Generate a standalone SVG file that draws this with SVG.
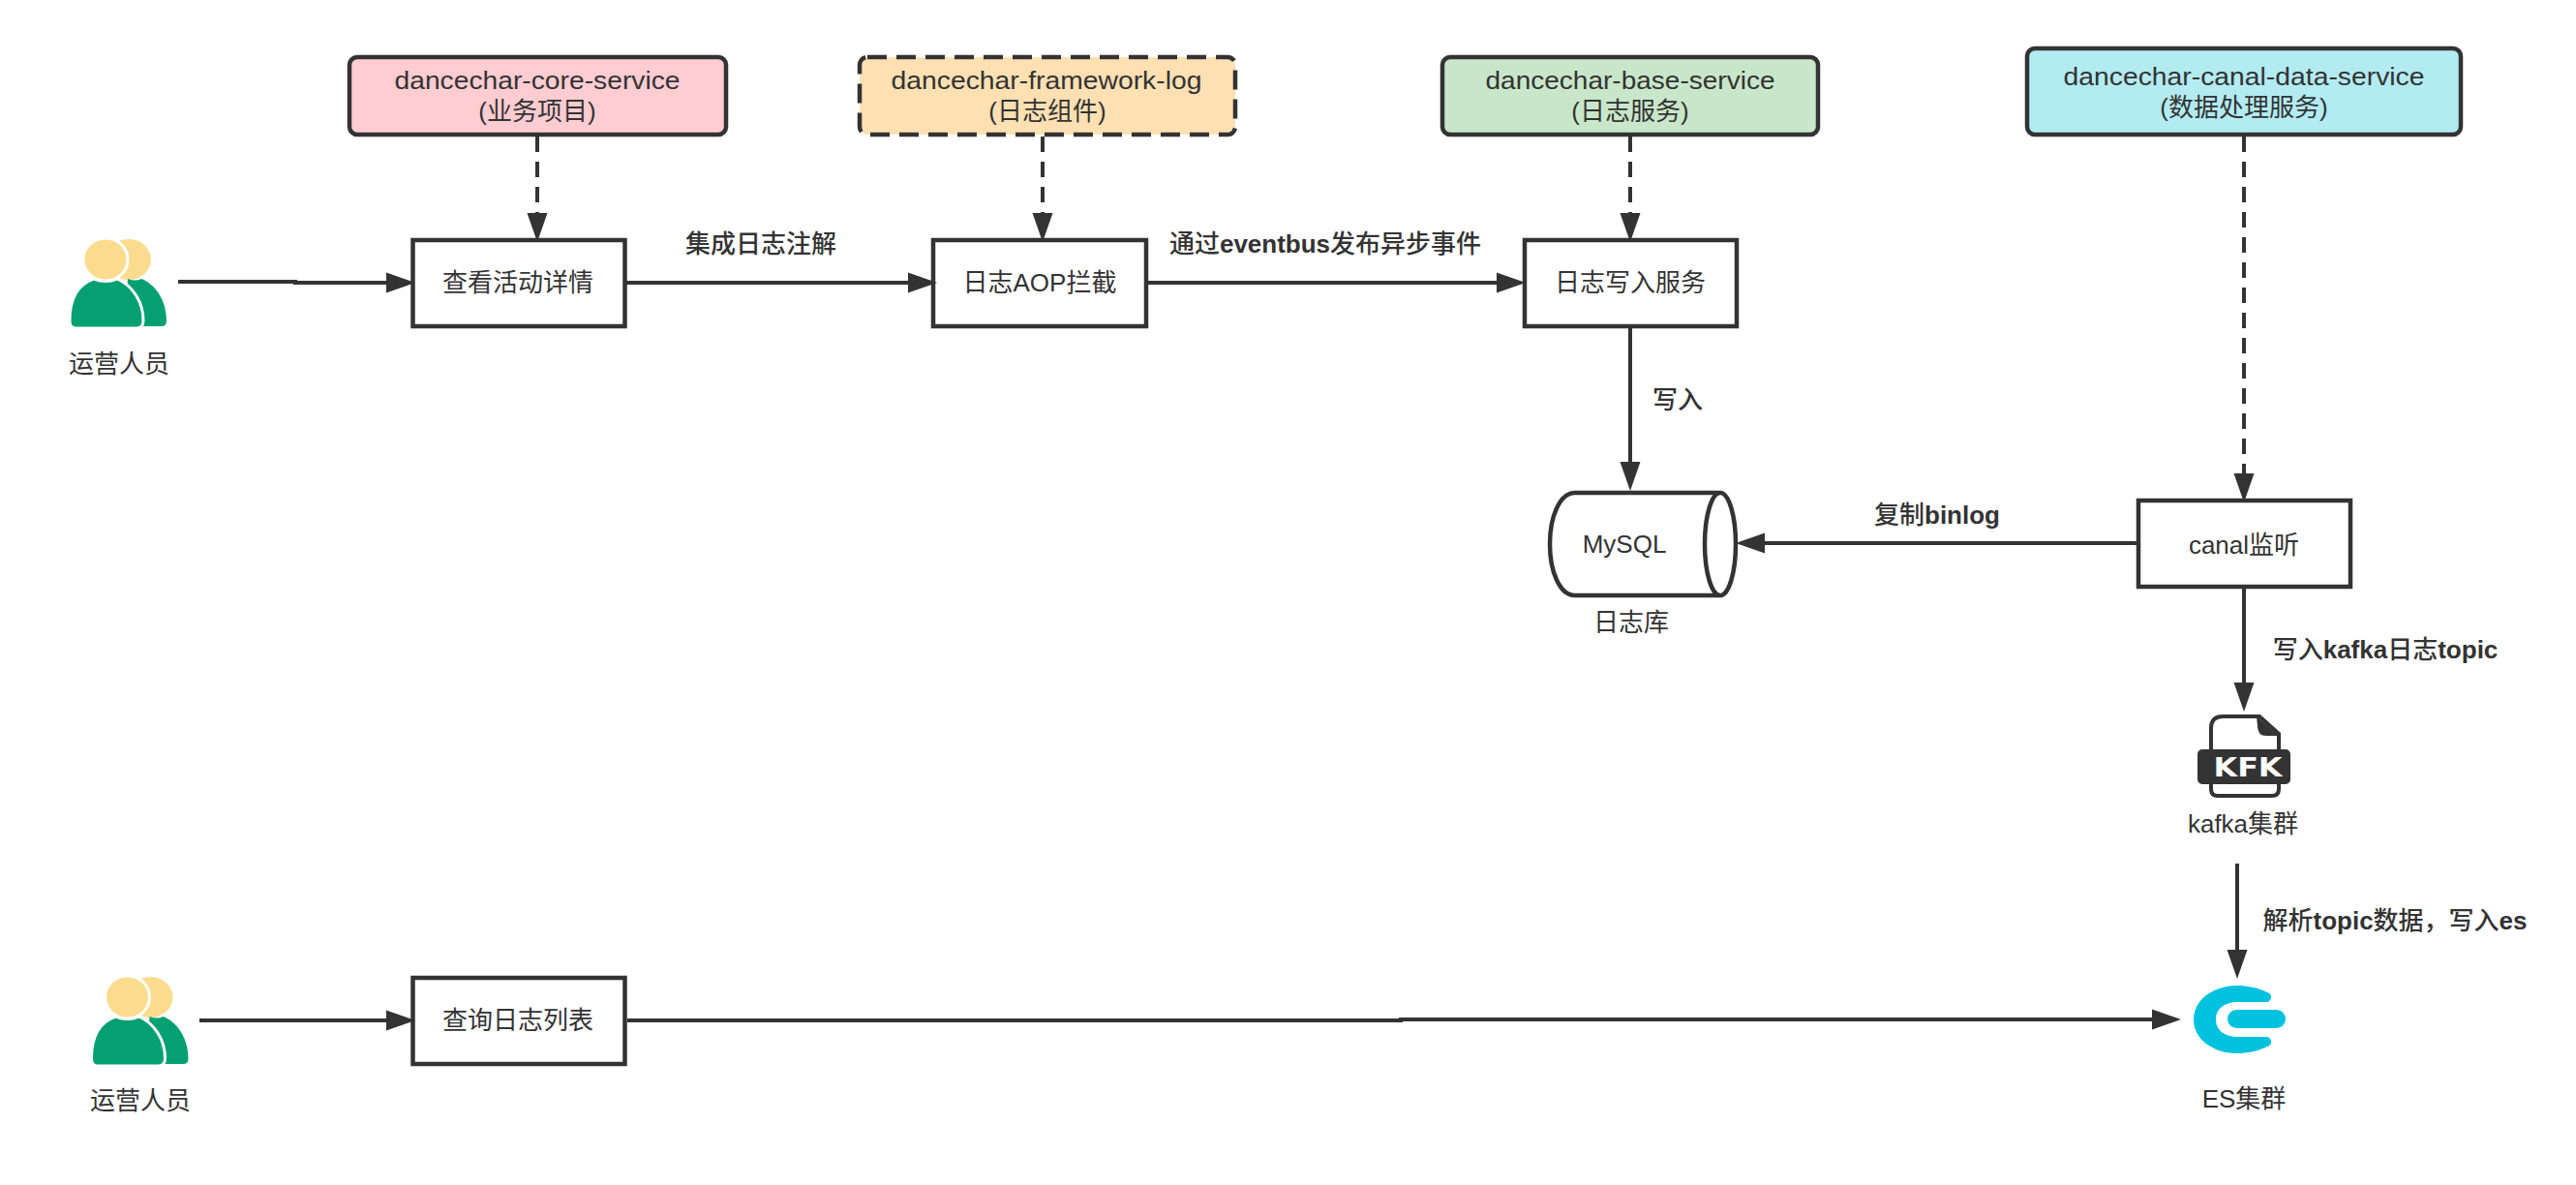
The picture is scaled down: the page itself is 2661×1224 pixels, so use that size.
<svg xmlns="http://www.w3.org/2000/svg" width="2661" height="1224" viewBox="0 0 2661 1224">
<style>
text{font-family:"Liberation Sans","Noto Sans CJK SC",sans-serif;font-size:26px;fill:#333;text-anchor:middle;dominant-baseline:central}
.b{font-weight:500;font-size:26px}
.b tspan{font-weight:700}
.box{fill:#fff;stroke:#333;stroke-width:4.5}
.svc{stroke:#333;stroke-width:4.5}
.c{fill:none;stroke:#333;stroke-width:4}
.d{stroke-dasharray:16 10}
</style>
<defs>
<marker id="a" markerUnits="userSpaceOnUse" markerWidth="32" markerHeight="24" refX="0" refY="11" orient="auto"><path d="M0,0.5 L30,11 L0,21.5Z" fill="#333"/></marker>
<g id="person">
<ellipse cx="133" cy="268" rx="23" ry="21" fill="#fbdb8d"/>
<path d="M132,288 Q140,291 146,288 C160,293 172,310 172,331 Q172,337 167,337 H128Z" fill="#04a071"/>
<ellipse cx="109" cy="268" rx="23" ry="22" fill="#fbdb8d" stroke="#fff" stroke-width="3"/>
<path d="M72,331 C72,306 82,293 97,288 Q109,293 121,288 C137,295 148,312 148,331 Q148,339 141,339 H78 Q72,339 72,331Z" fill="#04a071" stroke="#fff" stroke-width="3"/>
</g>
</defs>
<g id="op1"><use href="#person"/><text x="123" y="376">运营人员</text></g>
<g id="core"><rect class="svc" x="361" y="59" width="389" height="80" rx="8" fill="#ffccd2"/><text x="555" y="83" textLength="295" lengthAdjust="spacingAndGlyphs">dancechar-core-service</text><text x="555" y="115">(业务项目)</text></g>
<g id="framework"><rect class="svc" x="888" y="59" width="388" height="80" rx="8" fill="#ffe0b2" stroke-dasharray="20 10"/><text x="1081" y="83" textLength="321" lengthAdjust="spacingAndGlyphs">dancechar-framework-log</text><text x="1082" y="115">(日志组件)</text></g>
<g id="base"><rect class="svc" x="1490" y="59" width="388" height="80" rx="8" fill="#c8e6c9"/><text x="1684" y="83" textLength="299" lengthAdjust="spacingAndGlyphs">dancechar-base-service</text><text x="1684" y="115">(日志服务)</text></g>
<g id="canal-service"><rect class="svc" x="2094" y="50" width="448" height="89" rx="8" fill="#b2ebf2"/><text x="2318" y="79" textLength="373" lengthAdjust="spacingAndGlyphs">dancechar-canal-data-service</text><text x="2318" y="111">(数据处理服务)</text></g>
<g id="detail"><rect class="box" x="426.500" y="248" width="219" height="89"/><text x="535" y="292">查看活动详情</text></g>
<g id="aop"><rect class="box" x="964" y="248" width="220" height="89"/><text x="1074" y="292">日志AOP拦截</text></g>
<g id="write"><rect class="box" x="1575" y="248" width="219" height="89"/><text x="1684" y="292">日志写入服务</text></g>
<g id="mysql"><path d="M1627,509 H1777 A16,53 0 0 1 1777,615 H1627 C1611,615 1601,590 1601,562 C1601,534 1611,509 1627,509Z M1777,509 A16,53 0 0 0 1777,615" fill="#fff" stroke="#333" stroke-width="4.500"/><text x="1678" y="562">MySQL</text><text x="1685" y="643">日志库</text></g>
<g id="canal"><rect class="box" x="2209" y="517" width="219" height="89"/><text x="2318" y="563">canal监听</text></g>
<g id="kafka"><path d="M2296,740 H2334 L2354,758 V815 Q2354,822 2347,822 H2291 Q2284,822 2284,815 V752 Q2284,740 2296,740Z" fill="#fff" stroke="#333" stroke-width="4"/><path d="M2331,740 L2354,760 H2341 Q2332,760 2332,750Z" fill="#333"/><rect x="2270" y="774" width="96" height="36" rx="5" fill="#333"/><text x="2322" y="792" textLength="71" lengthAdjust="spacingAndGlyphs" style="font-family:'DejaVu Sans',sans-serif;font-weight:700;font-size:27px;fill:#fff">KFK</text><text x="2317" y="851">kafka集群</text></g>
<g id="es"><path d="M2342,1025 C2332,1020 2320,1018 2312,1018 C2285,1018 2266,1033 2266,1053 C2266,1073 2285,1088 2312,1088 C2320,1088 2332,1086 2342,1081 A5,5 0 0 0 2340,1071 L2312,1071 C2298,1071 2289,1064 2289,1053 C2289,1042 2298,1035 2312,1035 L2340,1035 A5,5 0 0 0 2342,1025Z" fill="#00c2df"/><rect x="2301" y="1043" width="60" height="19" rx="9.500" fill="#00c2df"/><text x="2318" y="1135">ES集群</text></g>
<g id="op2"><use href="#person" x="22.500" y="762"/><text x="145" y="1137">运营人员</text></g>
<g id="query"><rect class="box" x="426.500" y="1010" width="219" height="89"/><text x="535" y="1054">查询日志列表</text></g>
<g id="connectors">
<path class="c" marker-end="url(#a)" d="M184,291 H305 V292 H399"/>
<path class="c" marker-end="url(#a)" d="M647,292 H938"/>
<path class="c" marker-end="url(#a)" d="M1185,292 H1546"/>
<path class="c d" marker-end="url(#a)" d="M555,141 V220"/>
<path class="c d" marker-end="url(#a)" d="M1077,141 V220"/>
<path class="c d" marker-end="url(#a)" d="M1684,141 V220"/>
<path class="c d" marker-end="url(#a)" d="M2318,141 V489"/>
<path class="c" marker-end="url(#a)" d="M1684,339 V477"/>
<path class="c" marker-end="url(#a)" d="M2207,561 H1823"/>
<path class="c" marker-end="url(#a)" d="M2318,607 V705"/>
<path class="c" marker-end="url(#a)" d="M2311,892 V981"/>
<path class="c" marker-end="url(#a)" d="M206,1054 H399"/>
<path class="c" marker-end="url(#a)" d="M648,1054 H1447 V1053 H2223"/>
</g>
<g id="labels">
<text class="b" x="786" y="252">集成日志注解</text>
<text class="b" x="1369" y="252">通过<tspan>eventbus</tspan>发布异步事件</text>
<text class="b" x="1733" y="413">写入</text>
<text class="b" x="2001" y="532">复制<tspan>binlog</tspan></text>
<text class="b" x="2464" y="671">写入<tspan>kafka</tspan>日志<tspan>topic</tspan></text>
<text class="b" x="2474" y="951">解析<tspan>topic</tspan>数据，写入<tspan>es</tspan></text>
</g>
</svg>
